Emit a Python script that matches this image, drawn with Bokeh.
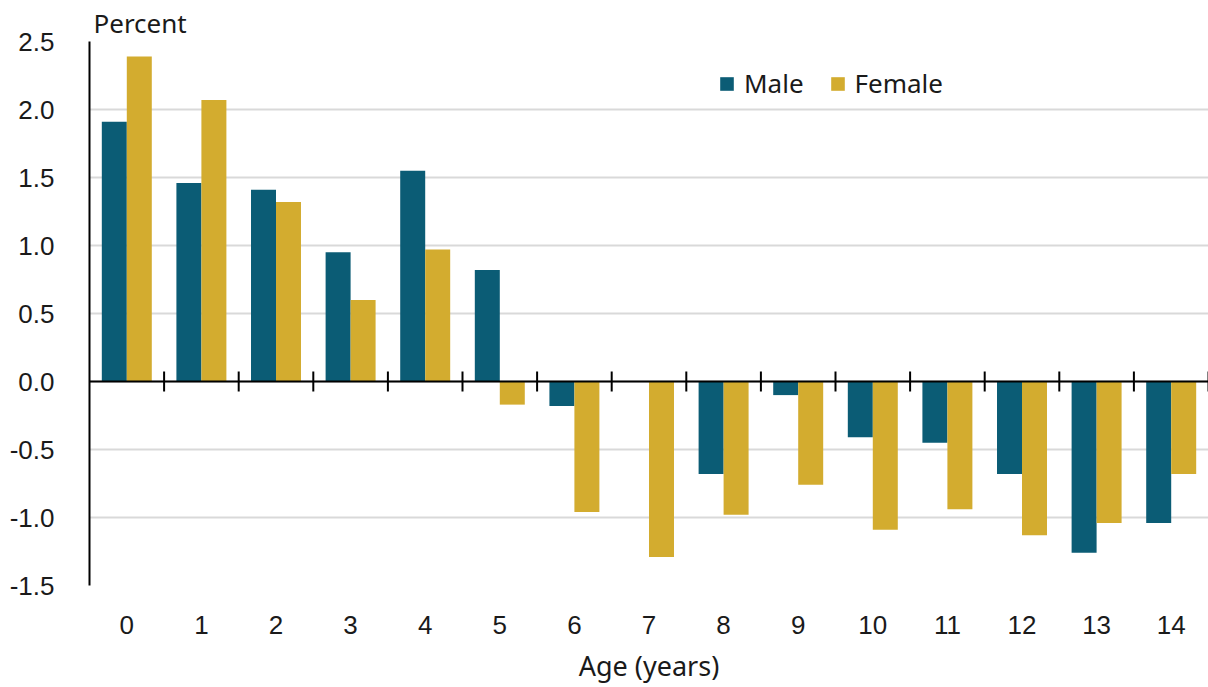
from bokeh.plotting import figure
from bokeh.models import ColumnDataSource, Range1d, FixedTicker, NumeralTickFormatter, Span
from bokeh.transform import dodge
from bokeh.embed import file_html
from bokeh.resources import INLINE

ages = list(range(15))
male = [1.91, 1.46, 1.41, 0.95, 1.55, 0.82, -0.18, 0.0, -0.68, -0.10, -0.41, -0.45, -0.68, -1.26, -1.04]
female = [2.39, 2.07, 1.32, 0.60, 0.97, -0.17, -0.96, -1.29, -0.98, -0.76, -1.09, -0.94, -1.13, -1.04, -0.68]
y_ticks = [-1.5, -1.0, -0.5, 0.0, 0.5, 1.0, 1.5, 2.0, 2.5]

MALE_C = "#0B5C75"
FEMALE_C = "#D3AC2F"
TXT = "#1a1a1a"

src = ColumnDataSource(dict(age=ages, male=male, female=female))

p = figure(width=1208, height=687, output_backend="svg", toolbar_location=None,
           x_range=Range1d(ages[0] - 0.5, ages[-1] + 0.5),
           y_range=Range1d(y_ticks[0], y_ticks[-1]),
           min_border_left=89, min_border_right=0, min_border_top=41, min_border_bottom=102,
           title="Percent")
p.outline_line_color = None
p.background_fill_color = "white"

p.title.text_font = "Noto Sans"
p.title.text_font_size = "26px"
p.title.text_font_style = "normal"
p.title.text_color = TXT
p.title.align = "left"
p.title.offset = 4
p.title.standoff = 2

bw = 0.335
p.vbar(x=dodge("age", -bw / 2, range=p.x_range), top="male", bottom=0, width=bw, source=src,
       fill_color=MALE_C, line_color=None, legend_label="Male")
p.vbar(x=dodge("age", bw / 2, range=p.x_range), top="female", bottom=0, width=bw, source=src,
       fill_color=FEMALE_C, line_color=None, legend_label="Female")

# zero line
p.add_layout(Span(location=0, dimension="width", line_color="black", line_width=2, level="overlay"))
# category separator ticks on the zero line
bounds = [a + 0.5 for a in ages]
tick_h = 10 / 136
p.segment(x0=bounds, x1=bounds, y0=[-tick_h] * len(bounds), y1=[tick_h] * len(bounds),
          line_color="black", line_width=2, level="overlay")

# axes
p.xaxis.ticker = FixedTicker(ticks=ages)
p.xaxis.axis_line_color = None
p.xaxis.major_tick_line_color = None
p.xaxis.minor_tick_line_color = None
p.xaxis.major_label_standoff = 24
p.xaxis.major_label_text_font = "Liberation Sans"
p.xaxis.major_label_text_font_size = "26px"
p.xaxis.major_label_text_color = TXT
p.xaxis.axis_label = "Age (years)"
p.xaxis.axis_label_text_font = "Noto Sans"
p.xaxis.axis_label_text_font_size = "27px"
p.xaxis.axis_label_text_font_style = "normal"
p.xaxis.axis_label_text_color = TXT
p.xaxis.axis_label_standoff = 10

p.yaxis.ticker = FixedTicker(ticks=y_ticks)
p.yaxis.formatter = NumeralTickFormatter(format="0.0")
p.yaxis.axis_line_color = "black"
p.yaxis.axis_line_width = 2
p.yaxis.major_tick_line_color = None
p.yaxis.minor_tick_line_color = None
p.yaxis.major_label_standoff = 29
p.yaxis.major_label_text_font = "Liberation Sans"
p.yaxis.major_label_text_font_size = "26px"
p.yaxis.major_label_text_color = TXT

p.xgrid.grid_line_color = None
p.ygrid.grid_line_color = "#d9d9d9"
p.ygrid.grid_line_width = 2

# legend
lg = p.legend[0]
lg.orientation = "horizontal"
lg.location = (629, 484)
lg.border_line_color = None
lg.background_fill_alpha = 0
lg.padding = 0
lg.margin = 0
lg.spacing = 25
lg.glyph_width = 17
lg.glyph_height = 17
lg.label_standoff = 9
lg.label_text_font = "Noto Sans"
lg.label_text_font_size = "26px"
lg.label_text_color = TXT

open("out.html", "w").write(file_html(p, INLINE))
